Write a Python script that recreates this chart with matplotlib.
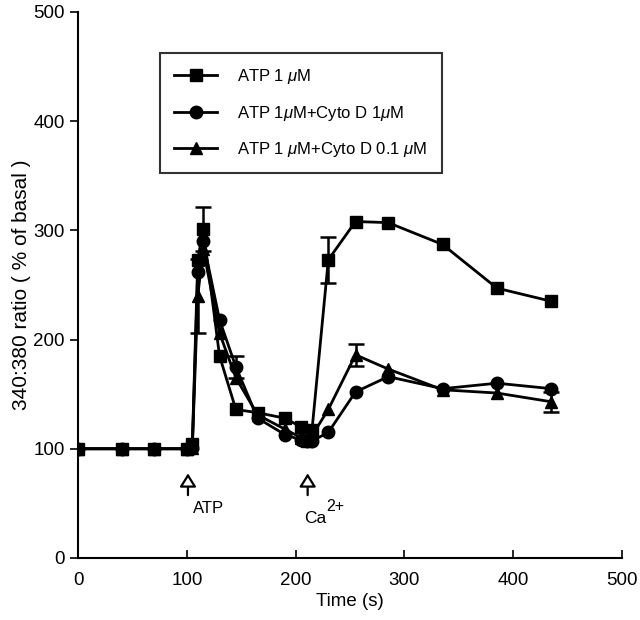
import matplotlib
matplotlib.use("Agg")
import matplotlib.pyplot as plt
from matplotlib.lines import Line2D

plt.rcParams["font.family"] = ["Liberation Sans", "DejaVu Sans"]
plt.rcParams["mathtext.fontset"] = "custom"
plt.rcParams["mathtext.it"] = "Liberation Sans:italic"
plt.rcParams["mathtext.rm"] = "Liberation Sans"

# time points (s)
t = [0, 40, 70, 100, 105, 110, 115, 130, 145, 165, 190, 205, 210, 215, 230, 255, 285, 335, 385, 435]

atp = [100, 100, 100, 100, 104, 273, 301, 185, 136, 133, 128, 120, 107, 117, 273, 308, 307, 287, 247, 235]
atp_err = [0, 0, 0, 0, 0, 0, 20, 0, 0, 0, 0, 0, 0, 0, 21, 0, 0, 0, 0, 0]

cyto1 = [100, 100, 100, 100, 101, 262, 290, 218, 175, 128, 113, 108, 107, 107, 115, 152, 166, 155, 160, 155]
cyto1_err = [0, 0, 0, 0, 0, 0, 0, 0, 10, 0, 0, 0, 0, 0, 0, 0, 0, 0, 0, 0]

cyto01 = [100, 100, 100, 100, 101, 240, 283, 206, 165, 131, 118, 110, 110, 112, 136, 186, 173, 154, 151, 143]
cyto01_err = [0, 0, 0, 0, 0, 34, 0, 0, 0, 0, 0, 0, 0, 0, 0, 10, 0, 0, 0, 9]

labels = ["ATP 1 $\\mu$M", "ATP 1$\\mu$M+Cyto D 1$\\mu$M", "ATP 1 $\\mu$M+Cyto D 0.1 $\\mu$M"]
markers = ["s", "o", "^"]

fig = plt.figure(figsize=(6.4, 6.2), dpi=100)
ax = fig.add_axes([0.122, 0.1, 0.85, 0.881])

handles = []
for y, err, m in zip([atp, cyto1, cyto01], [atp_err, cyto1_err, cyto01_err], markers):
    ax.errorbar(t, y, yerr=[e if e > 0 else float("nan") for e in err], color="black",
                marker=m, markersize=9, lw=2, capsize=6, capthick=1.8, elinewidth=1.8)
    handles.append(Line2D([], [], color="black", marker=m, markersize=9, lw=2))

ax.set_xlim(0, 500)
ax.set_ylim(0, 500)
ax.set_xticks([0, 100, 200, 300, 400, 500])
ax.set_yticks([0, 100, 200, 300, 400, 500])
ax.spines["top"].set_visible(False)
ax.spines["right"].set_visible(False)
for s in ["left", "bottom"]:
    ax.spines[s].set_linewidth(1.5)
ax.tick_params(axis="x", direction="in", length=6, width=1.2, labelsize=13.5, pad=10)
ax.tick_params(axis="y", direction="out", length=6, width=1.2, labelsize=13.5)
ax.set_xlabel("Time (s)", fontsize=13.5, labelpad=3)
ax.set_ylabel("340:380 ratio ( % of basal )", fontsize=15, labelpad=2)

leg = ax.legend(handles, labels, loc="upper left", bbox_to_anchor=(0.135, 0.94), fontsize=12,
                frameon=True, fancybox=False, edgecolor="black", handlelength=2.6,
                labelspacing=1.05, borderpad=0.85, handletextpad=1.2)
leg.get_frame().set_linewidth(1.5)

# stimulus arrows
arrow = dict(arrowstyle="-|>,head_width=0.5,head_length=0.8", fc="white", ec="black", lw=1.6)
ax.annotate("", xy=(101, 80), xytext=(101, 55), arrowprops=arrow)
ax.annotate("", xy=(211, 80), xytext=(211, 55), arrowprops=arrow)
ax.text(106, 45, "ATP", fontsize=12, va="center")
ax.text(208, 36, "Ca", fontsize=12.5, va="center")
ax.text(228, 47, "2+", fontsize=11.5, va="center")

fig.savefig("out.png", dpi=100)
